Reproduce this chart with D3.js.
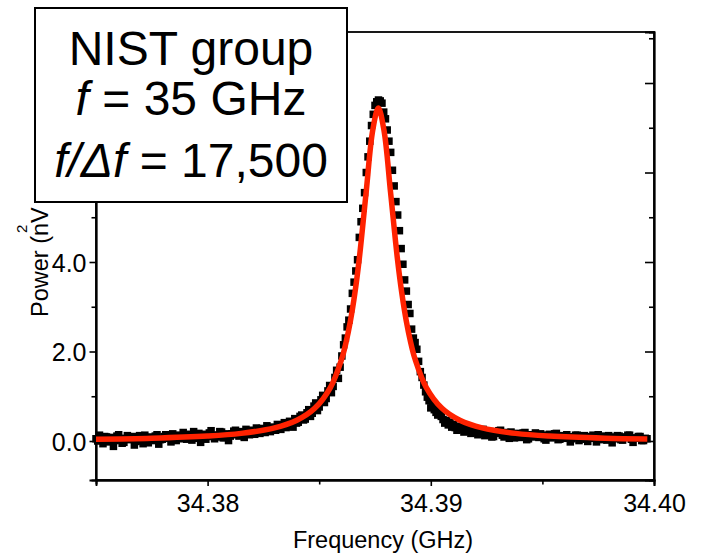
<!DOCTYPE html>
<html>
<head>
<meta charset="utf-8">
<script src="https://cdn.jsdelivr.net/npm/d3@7/dist/d3.min.js"></script>
<style>
  html, body { margin: 0; padding: 0; background: #fff; }
  svg { display: block; }
  text { font-family: "Liberation Sans", Arial, Helvetica, sans-serif; fill: #000; }
</style>
</head>
<body>
<svg id="chart" width="710" height="557"></svg>
<script>
// ---------------- data ----------------
const sweepStart = 34.375;       // GHz, first sample of the sweep
const sweepStep = 0.000078125;   // GHz, sample spacing

// measured power (nV^2/Hz), one value per sweep sample
const measuredPower = [
  0.05, 0.00, 0.13, 0.07, -0.06, 0.10, 0.09, -0.02, 0.02, 0.08,
  -0.12, 0.01, 0.11, 0.14, 0.05, -0.05, -0.03, 0.06, 0.12, 0.03,
  0.04, 0.10, -0.09, -0.01, 0.08, 0.12, 0.02, -0.06, 0.13, 0.05,
  -0.04, 0.09, 0.07, 0.01, 0.11, 0.14, -0.07, 0.03, 0.04, 0.10,
  0.14, 0.06, 0.06, -0.02, 0.16, 0.09, 0.01, 0.13, 0.12, 0.05,
  0.19, 0.11, 0.04, 0.15, 0.10, 0.02, 0.21, 0.12, 0.06, 0.17,
  -0.03, 0.08, 0.15, 0.04, 0.10, 0.18, 0.23, 0.13, 0.05, 0.09,
  0.13, 0.21, 0.20, 0.07, 0.08, 0.16, 0.01, 0.11, 0.16, 0.22,
  0.24, 0.14, 0.11, 0.19, 0.21, 0.08, 0.26, 0.17, 0.14, 0.24,
  0.23, 0.15, 0.29, 0.20, 0.17, 0.28, 0.25, 0.19, 0.34, 0.26,
  0.21, 0.31, 0.30, 0.24, 0.37, 0.29, 0.26, 0.35, 0.41, 0.30,
  0.33, 0.44, 0.38, 0.31, 0.50, 0.40, 0.42, 0.55, 0.58, 0.47,
  0.49, 0.63, 0.70, 0.55, 0.62, 0.78, 0.85, 0.68, 0.76, 0.92,
  1.02, 0.86, 0.95, 1.12, 1.24, 1.08, 1.22, 1.42, 1.58, 1.40,
  1.65, 1.90, 2.15, 2.30, 2.55, 2.70, 2.95, 3.30, 3.55, 3.80,
  4.05, 4.55, 4.90, 5.20, 5.55, 6.00, 6.35, 6.70, 7.05, 7.30,
  7.50, 7.58, 7.62, 7.60, 7.55, 7.35, 7.20, 6.95, 6.70, 6.45,
  6.05, 5.70, 5.35, 5.05, 4.70, 4.30, 3.95, 3.60, 3.35, 3.05,
  2.85, 2.50, 2.30, 2.20, 2.05, 1.78, 1.55, 1.42, 1.25, 1.10,
  0.98, 0.90, 0.74, 0.82, 0.70, 0.64, 0.58, 0.66, 0.55, 0.48,
  0.40, 0.46, 0.36, 0.42, 0.31, 0.37, 0.30, 0.24, 0.26, 0.33,
  0.28, 0.20, 0.22, 0.29, 0.25, 0.17, 0.19, 0.27, 0.23, 0.14,
  0.17, 0.22, 0.26, 0.12, 0.14, 0.20, 0.21, 0.09, 0.10, 0.17,
  0.18, 0.23, 0.24, 0.13, 0.09, 0.19, 0.15, 0.06, 0.20, 0.14,
  0.07, 0.17, 0.16, 0.08, 0.12, 0.18, 0.19, 0.03, 0.05, 0.13,
  0.14, 0.09, 0.18, 0.11, 0.08, 0.16, 0.13, 0.05, 0.02, 0.12,
  0.15, 0.07, 0.10, 0.16, 0.17, 0.03, 0.04, 0.12, 0.11, 0.06,
  0.14, 0.09, -0.02, 0.05, 0.09, 0.13, 0.13, 0.01, 0.05, 0.10,
  0.12, 0.04, -0.01, 0.08, 0.10, 0.13, 0.06, -0.02, 0.14, 0.07,
  0.03, 0.11, 0.08, 0.02, 0.12, 0.09, -0.04, 0.05, 0.07, 0.12,
  0.11, 0.03, 0.02, 0.08, 0.09, 0.13, 0.13, 0.04, -0.03, 0.07,
  0.06, 0.10, 0.10, 0.01, 0.01, 0.06, 0.05
];

// Lorentzian fit
const fitFreq = [
  34.3750, 34.3775, 34.3800, 34.3815, 34.3830, 34.3840, 34.3848, 34.3855,
  34.3860, 34.3862, 34.3864, 34.3866, 34.3868, 34.3871, 34.3874, 34.38765,
  34.3879, 34.3882, 34.3885, 34.3887, 34.3889, 34.3891, 34.3893, 34.3898,
  34.3905, 34.3913, 34.3923, 34.3938, 34.3953, 34.3978, 34.3997
];
const fitPower = [
  0.041, 0.063, 0.111, 0.170, 0.292, 0.463, 0.730, 1.194,
  1.823, 2.200, 2.688, 3.310, 4.092, 5.544, 6.949, 7.440,
  6.949, 5.544, 4.092, 3.310, 2.688, 2.200, 1.823, 1.194,
  0.730, 0.463, 0.292, 0.170, 0.111, 0.063, 0.045
];

const xMajorTicks = [34.38, 34.39, 34.40];
const xMinorTicks = [34.375, 34.385, 34.395];
const yMajorTicks = [0, 2, 4, 6, 8];
const yMinorTicks = [1, 3, 5, 7, 9];
// labels 6.0 and 8.0 sit behind the annotation box in the reference
const yTickLabels = ["0.0", "2.0", "4.0", "", ""];
const xTitle = "Frequency (GHz)";
const yTitle = "Power (nV";
const yTitleSup = "2";
const boxLines = ["NIST group", "f = 35 GHz", "f/Δf = 17,500"];

// ---------------- layout ----------------
const svg = d3.select("#chart");
const L = 96, R = 654, T = 32, B = 480;
const x = d3.scaleLinear().domain([34.375, 34.400]).range([L, R]);
const y = d3.scaleLinear().domain([-0.8715, 9.14]).range([B, T]);

const axisColor = "#000";
const g = svg.append("g");

const tickFont = "25px";
const leftAxis = d3.axisLeft(y).tickValues(yMajorTicks)
  .tickFormat((d, i) => yTickLabels[i]).tickSize(6.5).tickPadding(3);
const gl = g.append("g").attr("transform", `translate(${L},0)`).call(leftAxis);
const leftMinor = d3.axisLeft(y).tickValues(yMinorTicks).tickFormat("").tickSize(4.5);
g.append("g").attr("transform", `translate(${L},0)`).call(leftMinor);

const bottomAxis = d3.axisBottom(x).tickValues(xMajorTicks)
  .tickFormat(d3.format(".2f")).tickSize(6).tickPadding(8);
g.append("g").attr("transform", `translate(0,${B})`).call(bottomAxis);
const bottomMinor = d3.axisBottom(x).tickValues(xMinorTicks).tickFormat("").tickSize(4.5);
g.append("g").attr("transform", `translate(0,${B})`).call(bottomMinor);

const rightMajor = d3.axisLeft(y).tickValues(yMajorTicks).tickFormat("").tickSize(9);
g.append("g").attr("transform", `translate(${R},0)`).call(rightMajor);
const rightMinor = d3.axisLeft(y).tickValues(yMinorTicks).tickFormat("").tickSize(5);
g.append("g").attr("transform", `translate(${R},0)`).call(rightMinor);

g.selectAll(".domain").attr("stroke", axisColor).attr("stroke-width", 1.8);
g.selectAll(".tick line").attr("stroke", axisColor).attr("stroke-width", 1.6);
g.selectAll(".tick text").style("font-size", tickFont).attr("fill", "#000");
gl.selectAll(".tick text").attr("dy", "0.36em");

g.append("rect").attr("x", L).attr("y", T).attr("width", R - L).attr("height", B - T)
  .attr("fill", "none").attr("stroke", axisColor).attr("stroke-width", 1.8);

// axis titles
svg.append("text").attr("x", 383).attr("y", 548)
  .attr("text-anchor", "middle").style("font-size", "23.5px").text(xTitle);
svg.append("text").attr("transform", "translate(48,317) rotate(-90)")
  .attr("text-anchor", "start").style("font-size", "23.5px").text(yTitle);
svg.append("text").attr("transform", "translate(27,233) rotate(-90)")
  .attr("text-anchor", "start").style("font-size", "15px").text(yTitleSup);

// data squares
const sq = 7.5;
const dataPts = measuredPower.map((p, i) => ({ f: sweepStart + i * sweepStep, p }));
svg.append("g").selectAll("rect").data(dataPts).join("rect")
  .attr("x", d => x(d.f) - sq / 2).attr("y", d => y(d.p) - sq / 2)
  .attr("width", sq).attr("height", sq).attr("fill", "#000");

// fit curve
const fitPts = fitFreq.map((f, i) => ({ f, p: fitPower[i] }));
const line = d3.line().x(d => x(d.f)).y(d => y(d.p)).curve(d3.curveCatmullRom.alpha(0.5));
svg.append("path").datum(fitPts).attr("d", line)
  .attr("fill", "none").attr("stroke", "#ff2200").attr("stroke-width", 5.5)
  .attr("stroke-linejoin", "round").attr("stroke-linecap", "butt");

// annotation box
const box = svg.append("g");
box.append("rect").attr("x", 35).attr("y", 8).attr("width", 312).attr("height", 194)
  .attr("fill", "#fff").attr("stroke", "#000").attr("stroke-width", 2);
const cx = 191;
box.append("text").attr("x", cx).attr("y", 65).attr("text-anchor", "middle")
  .style("font-size", "48px").text(boxLines[0]);
const t2 = box.append("text").attr("x", cx).attr("y", 115).attr("text-anchor", "middle")
  .style("font-size", "48px");
t2.append("tspan").style("font-style", "italic").text("f");
t2.append("tspan").text(" = 35 GHz");
const t3 = box.append("text").attr("x", cx).attr("y", 177).attr("text-anchor", "middle")
  .style("font-size", "48px");
t3.append("tspan").style("font-style", "italic").text("f/Δf");
t3.append("tspan").text(" = 17,500");
</script>
</body>
</html>
